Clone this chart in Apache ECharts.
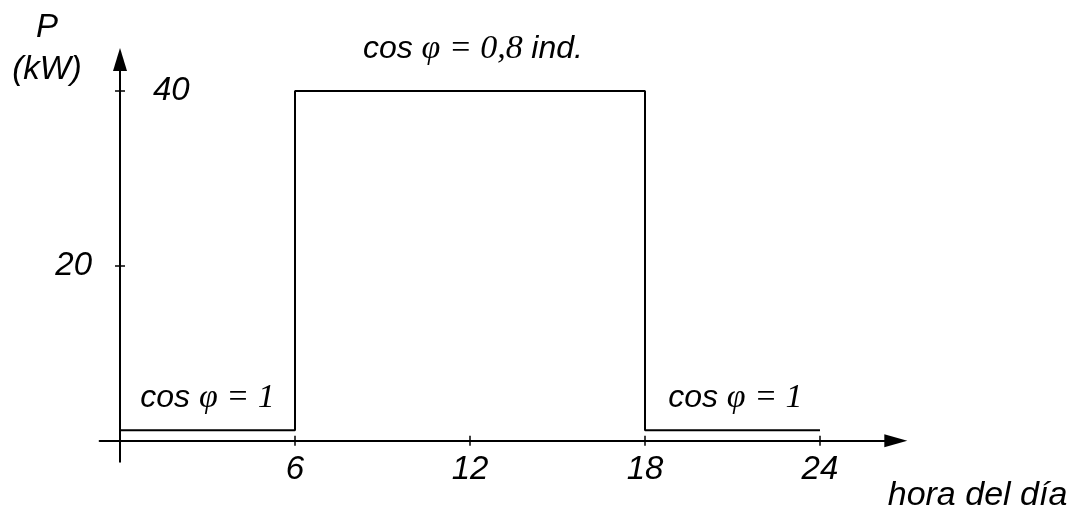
<!DOCTYPE html>
<html>
<head>
<meta charset="utf-8">
<script src="https://cdn.jsdelivr.net/npm/echarts@6/dist/echarts.min.js"></script>
<style>
  html, body { margin: 0; padding: 0; background: #fff; }
  #chart { width: 1073px; height: 508px; }
</style>
</head>
<body>
<div id="chart"></div>
<script>
  // potencia demandada a lo largo del día (kW)
  const hours = [0, 6, 6, 18, 18, 24];
  const power = [1.2, 1.2, 40, 40, 1.2, 1.2];
  const xTicks = [6, 12, 18, 24];
  const yTicks = [20, 40];
  // textos sobre la curva: [hora, kW, texto]
  const notes = [
    [3, 4.9, '{s|cos }{g|φ = 1}'],
    [21.1, 4.9, '{s|cos }{g|φ = 1}'],
    [12.1, 44.8, '{s|cos }{g|φ = 0,8 }{s|ind.}']
  ];

  const sans = '"Liberation Sans", Arial, sans-serif';
  const serif = '"Liberation Serif", "Times New Roman", serif';

  const chart = echarts.init(document.getElementById('chart'));

  const lineStyle = { color: '#000', width: 2 };
  const tickStyle = { color: '#000', width: 1.5 };
  const plain = { color: '#000', textBorderWidth: 0, textBorderColor: 'transparent', textShadowBlur: 0 };

  // los ejes se cruzan en el cero; las etiquetas se miden desde el borde del grid
  chart.setOption({
    animation: false,
    backgroundColor: '#fff',
    grid: { left: 99.6, right: 177.2, top: 59.5, bottom: 46.3, outerBoundsMode: 'none', containLabel: false },
    xAxis: [
      {
        type: 'value', min: -0.7, max: 26.6, position: 'bottom',
        splitLine: { show: false },
        axisLine: { onZero: true, lineStyle: lineStyle, symbol: ['none', 'triangle'], symbolSize: [13, 23] },
        axisTick: { customValues: xTicks, length: 5, lineStyle: tickStyle },
        axisLabel: {
          customValues: xTicks, margin: -8, color: '#000',
          fontFamily: sans, fontStyle: 'italic', fontSize: 33
        },
        name: 'hora del día', nameLocation: 'end', nameGap: 171.5,
        nameTextStyle: {
          color: '#000', fontFamily: sans, fontStyle: 'italic', fontSize: 34,
          align: 'right', verticalAlign: 'top', padding: [38, 0, 0, 0]
        }
      },
      {
        type: 'value', min: -0.7, max: 26.6, position: 'bottom',
        splitLine: { show: false },
        axisLine: { show: false, onZero: true },
        axisTick: { inside: true, customValues: xTicks, length: 5, lineStyle: tickStyle },
        axisLabel: { show: false }
      }
    ],
    yAxis: [
      {
        type: 'value', min: -2.4, max: 43.6, position: 'left',
        splitLine: { show: false },
        axisLine: { onZero: true, lineStyle: lineStyle, symbol: ['none', 'triangle'], symbolSize: [14, 23] },
        axisTick: { customValues: yTicks, length: 5, lineStyle: tickStyle },
        axisLabel: {
          customValues: [20], margin: 7.6, color: '#000',
          fontFamily: sans, fontStyle: 'italic', fontSize: 33
        },
        name: 'P\n(kW)', nameLocation: 'end', nameGap: 11,
        nameTextStyle: {
          color: '#000', fontFamily: sans, fontStyle: 'italic', fontSize: 33,
          lineHeight: 42, align: 'center', verticalAlign: 'middle', padding: [0, 146, 0, 0]
        }
      },
      {
        type: 'value', min: -2.4, max: 43.6, position: 'left',
        splitLine: { show: false },
        axisLine: { show: false, onZero: true },
        axisTick: { inside: true, customValues: yTicks, length: 5, lineStyle: tickStyle },
        axisLabel: {
          inside: true, customValues: [40], margin: 53.4, color: '#000',
          fontFamily: sans, fontStyle: 'italic', fontSize: 33
        }
      }
    ],
    series: [
      {
        type: 'line',
        data: hours.map((h, i) => [h, power[i]]),
        showSymbol: false,
        lineStyle: lineStyle,
        itemStyle: { color: '#000' }
      },
      {
        type: 'scatter',
        clip: false,
        symbolSize: 0,
        silent: true,
        itemStyle: { color: '#000', opacity: 1 },
        data: notes.map(n => ({ value: [n[0], n[1]], label: { formatter: n[2] } })),
        label: Object.assign({
          show: true, position: 'inside',
          rich: {
            s: Object.assign({ fontFamily: sans, fontStyle: 'italic', fontSize: 32 }, plain),
            g: Object.assign({ fontFamily: serif, fontStyle: 'italic', fontSize: 34 }, plain)
          }
        }, plain)
      }
    ]
  });
</script>
</body>
</html>
